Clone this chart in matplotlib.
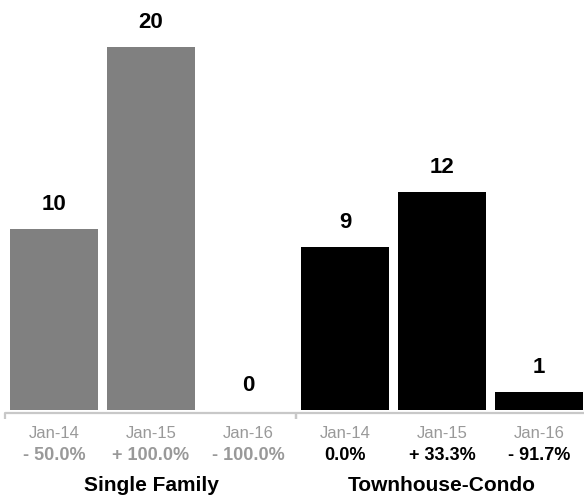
import matplotlib.pyplot as plt

plt.rcParams["font.family"] = ["Liberation Sans", "DejaVu Sans"]

groups = ["Single Family", "Townhouse-Condo"]
periods = ["Jan-14", "Jan-15", "Jan-16"]
single_family = [10, 20, 0]
townhouse = [9, 12, 1]
sf_change = ["- 50.0%", "+ 100.0%", "- 100.0%"]
th_change = ["0.0%", "+ 33.3%", "- 91.7%"]

fig = plt.figure(figsize=(5.84, 5.0), dpi=100)
ax = fig.add_axes([0, 90 / 500, 1, 410 / 500])
ax.set_xlim(-0.557, 5.464)
ax.set_ylim(0, 22.6)
ax.axis("off")

series = [(single_family, sf_change, "#808080", "#999999"),
          (townhouse, th_change, "#000000", "#000000")]

for g, (vals, changes, color, pct_color) in enumerate(series):
    xs = [g * 3 + i for i in range(len(vals))]
    ax.bar(xs, vals, width=0.907, color=color)
    for x, v, lab, ch in zip(xs, vals, periods, changes):
        ax.annotate(str(v), xy=(x, v), xytext=(0, 17.5), textcoords="offset points",
                    ha="center", va="center", fontsize=16, fontweight="bold")
        ax.annotate(lab, xy=(x, 0), xytext=(0, -16.6), textcoords="offset points",
                    ha="center", va="center", fontsize=12, color="#999999",
                    annotation_clip=False)
        ax.annotate(ch, xy=(x, 0), xytext=(0, -32.4), textcoords="offset points",
                    ha="center", va="center", fontsize=13, fontweight="bold",
                    color=pct_color, annotation_clip=False)
    ax.annotate(groups[g], xy=(g * 3 + 1, 0), xytext=(0, -54.7), textcoords="offset points",
                ha="center", va="center", fontsize=15, fontweight="bold",
                annotation_clip=False)
    # bracket under the group
    left, right = g * 3 - 0.505, g * 3 + 2.495
    ax.plot([left, left, right, right], [-0.5, -0.16, -0.16, -0.5],
            color="#c8c8c8", lw=1.6, clip_on=False, solid_capstyle="butt")

fig.savefig("out.png", dpi=100)
